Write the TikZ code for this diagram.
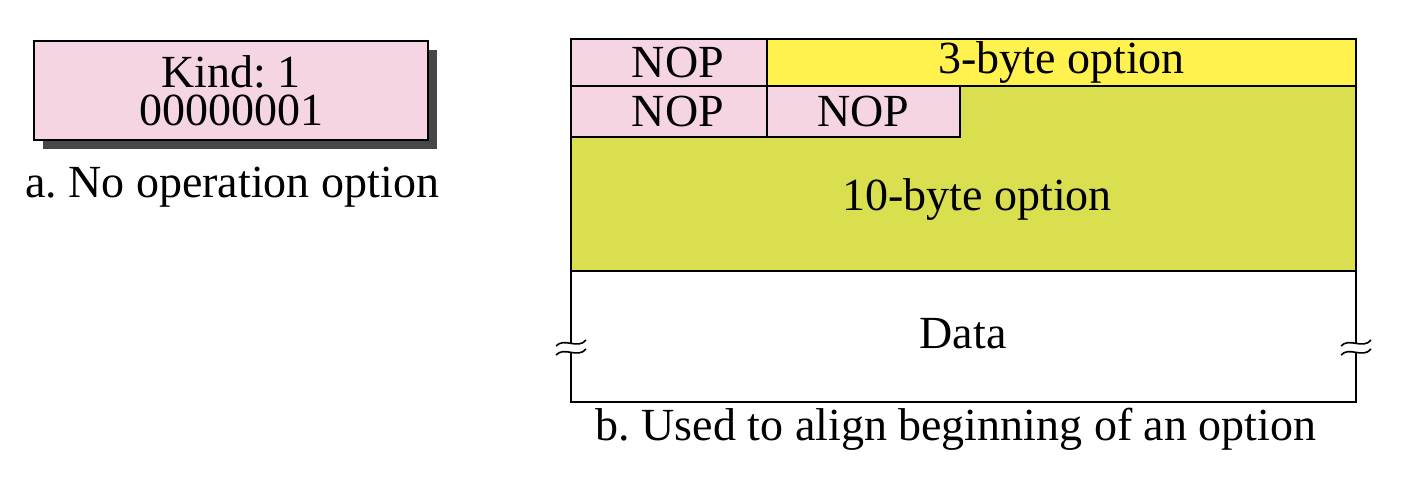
\documentclass[tikz,border=0pt]{standalone}
\usepackage{fontspec}
\setmainfont{Liberation Serif}
\usetikzlibrary{positioning,shadows}
\definecolor{nopink}{HTML}{F5D4E4}
\definecolor{optyellow}{HTML}{FFF24F}
\definecolor{optolive}{HTML}{DADF50}
\frenchspacing
\begin{document}
\begin{tikzpicture}[x=0.5pt,y=-0.5pt,
every node/.style={font=\fontsize{23}{20}\selectfont},
pinkbox/.style={draw, line width=1pt, fill=nopink, inner sep=0pt, outer sep=0pt, anchor=north west},
yellowbox/.style={draw, line width=1pt, fill=optyellow, inner sep=0pt, outer sep=0pt, anchor=north west},
olivebox/.style={draw, line width=1pt, fill=optolive, inner sep=0pt, outer sep=0pt, anchor=north west},
wavy/.pic={\draw[line width=0.8pt] (-15,3) .. controls (-7,-6) and (7,7) .. (15,-3);},
]
\useasboundingbox (0,0) rectangle (1402,488);

% a
\node[pinkbox, minimum width=197pt, minimum height=49.5pt, align=center,
  drop shadow={shadow xshift=4.5pt, shadow yshift=-4.5pt, fill=black!72, opacity=1}]
  (k1) at (34,41) {Kind: 1\\[-1pt]00000001};
\node[anchor=base] (capa) at (232,197) {a. No operation option};

% b
\node[olivebox, minimum width=392.5pt, minimum height=92.5pt] (t10) at (571,86) {};
\node[pinkbox, minimum width=98pt, minimum height=23.5pt] (n1) at (571,39) {\hspace*{9pt}NOP};
\node[yellowbox, minimum width=294.5pt, minimum height=23.5pt] (t3) at (767,39) {3-byte option};
\node[pinkbox, minimum width=98pt, minimum height=25.5pt] (n2) at (571,86) {\hspace*{9pt}NOP};
\node[pinkbox, minimum width=96.5pt, minimum height=25.5pt] (n3) at (767,86) {NOP};
\node[anchor=base] (l10) at (977,210) {10-byte option};

\coordinate (d1) at (571,343);
\coordinate (d2) at (571,352);
\coordinate (d3) at (1356,343);
\coordinate (d4) at (1356,352);
\coordinate (d5) at (571,402);
\coordinate (d6) at (1356,402);
\draw[line width=1pt] (t10.south west) -- (d1);
\draw[line width=1pt] (t10.south east) -- (d3);
\draw[line width=1pt] (d2) -- (d5) -- (d6) -- (d4);
\pic at (d1) {wavy};
\pic at (d2) {wavy};
\pic at (d3) {wavy};
\pic at (d4) {wavy};

\node[anchor=base] (data) at (963,348) {Data};
\node[anchor=base] (capb) at (956,440) {b. Used to align beginning of an option};
\end{tikzpicture}
\end{document}
